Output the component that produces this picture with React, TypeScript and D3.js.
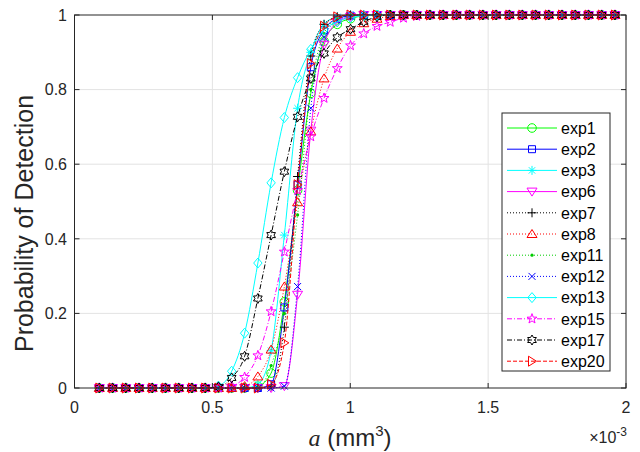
import React from 'react';
import * as d3 from 'd3';

// flaw size a, in units of 1e-3 mm^3
const aValues = [
  0.090, 0.138, 0.186, 0.234, 0.282, 0.330, 0.378, 0.426, 0.474, 0.522,
  0.570, 0.617, 0.665, 0.713, 0.761, 0.809, 0.857, 0.905, 0.953, 1.001,
  1.049, 1.097, 1.145, 1.193, 1.241, 1.289, 1.337, 1.385, 1.433, 1.481,
  1.529, 1.577, 1.624, 1.672, 1.720, 1.768, 1.816, 1.864, 1.912, 1.960,
];

const exp1 = [
  0, 0, 0, 0, 0, 0, 0, 0, 0, 0,
  0, 0, 0.005, 0.04, 0.231, 0.53, 0.79, 0.93, 0.975, 0.99,
  0.998, 1, 1, 1, 1, 1, 1, 1, 1, 1,
  1, 1, 1, 1, 1, 1, 1, 1, 1, 1,
];
const exp2 = [
  0, 0, 0, 0, 0, 0, 0, 0, 0, 0,
  0, 0, 0, 0.01, 0.216, 0.545, 0.86, 0.96, 0.99, 0.998,
  1, 1, 1, 1, 1, 1, 1, 1, 1, 1,
  1, 1, 1, 1, 1, 1, 1, 1, 1, 1,
];
const exp3 = [
  0, 0, 0, 0, 0, 0, 0, 0, 0, 0,
  0, 0, 0.01, 0.1, 0.41, 0.75, 0.9, 0.975, 0.995, 1,
  1, 1, 1, 1, 1, 1, 1, 1, 1, 1,
  1, 1, 1, 1, 1, 1, 1, 1, 1, 1,
];
const exp6 = [
  0, 0, 0, 0, 0, 0, 0, 0, 0, 0,
  0, 0, 0, 0, 0.005, 0.25, 0.69, 0.92, 0.98, 0.995,
  1, 1, 1, 1, 1, 1, 1, 1, 1, 1,
  1, 1, 1, 1, 1, 1, 1, 1, 1, 1,
];
const exp7 = [
  0, 0, 0, 0, 0, 0, 0, 0, 0, 0,
  0, 0, 0, 0.005, 0.163, 0.567, 0.89, 0.975, 0.995, 1,
  1, 1, 1, 1, 1, 1, 1, 1, 1, 1,
  1, 1, 1, 1, 1, 1, 1, 1, 1, 1,
];
const exp8 = [
  0, 0, 0, 0, 0, 0, 0, 0, 0, 0,
  0, 0.005, 0.031, 0.103, 0.272, 0.498, 0.688, 0.83, 0.91, 0.955,
  0.978, 0.99, 0.997, 1, 1, 1, 1, 1, 1, 1,
  1, 1, 1, 1, 1, 1, 1, 1, 1, 1,
];
const exp11 = [
  0, 0, 0, 0, 0, 0, 0, 0, 0, 0,
  0, 0, 0, 0.06, 0.2, 0.464, 0.8, 0.95, 0.99, 1,
  1, 1, 1, 1, 1, 1, 1, 1, 1, 1,
  1, 1, 1, 1, 1, 1, 1, 1, 1, 1,
];
const exp12 = [
  0, 0, 0, 0, 0, 0, 0, 0, 0, 0,
  0, 0, 0, 0, 0.005, 0.272, 0.75, 0.94, 0.985, 0.997,
  1, 1, 1, 1, 1, 1, 1, 1, 1, 1,
  1, 1, 1, 1, 1, 1, 1, 1, 1, 1,
];
const exp13 = [
  0, 0, 0, 0, 0, 0, 0, 0, 0, 0.005,
  0.045, 0.147, 0.335, 0.55, 0.725, 0.832, 0.908, 0.96, 0.982, 0.993,
  0.998, 1, 1, 1, 1, 1, 1, 1, 1, 1,
  1, 1, 1, 1, 1, 1, 1, 1, 1, 1,
];
const exp15 = [
  0, 0, 0, 0, 0, 0, 0, 0, 0, 0,
  0.005, 0.029, 0.087, 0.205, 0.365, 0.53, 0.674, 0.777, 0.857, 0.918,
  0.95, 0.97, 0.981, 0.992, 0.997, 1, 1, 1, 1, 1,
  1, 1, 1, 1, 1, 1, 1, 1, 1, 1,
];
const exp17 = [
  0, 0, 0, 0, 0, 0, 0, 0, 0, 0.003,
  0.027, 0.085, 0.24, 0.41, 0.58, 0.727, 0.83, 0.897, 0.94, 0.962,
  0.982, 0.995, 1, 1, 1, 1, 1, 1, 1, 1,
  1, 1, 1, 1, 1, 1, 1, 1, 1, 1,
];
const exp20 = [
  0, 0, 0, 0, 0, 0, 0, 0, 0, 0,
  0, 0, 0, 0.01, 0.121, 0.545, 0.87, 0.97, 0.995, 1,
  1, 1, 1, 1, 1, 1, 1, 1, 1, 1,
  1, 1, 1, 1, 1, 1, 1, 1, 1, 1,
];

const seriesNames = ['exp1', 'exp2', 'exp3', 'exp6', 'exp7', 'exp8', 'exp11', 'exp12', 'exp13', 'exp15', 'exp17', 'exp20'];
const seriesValues = [exp1, exp2, exp3, exp6, exp7, exp8, exp11, exp12, exp13, exp15, exp17, exp20];

const xTicks = [0, 0.5, 1, 1.5, 2];
const xTickLabels = ['0', '0.5', '1', '1.5', '2'];
const yTicks = [0, 0.2, 0.4, 0.6, 0.8, 1];
const yTickLabels = ['0', '0.2', '0.4', '0.6', '0.8', '1'];

// matlab-ish styles: color, marker, dash
const styles = [
  { color: '#00ff00', marker: 'o', dash: null },
  { color: '#0000ff', marker: 's', dash: null },
  { color: '#00ffff', marker: '*', dash: null },
  { color: '#ff00ff', marker: 'v', dash: null },
  { color: '#000000', marker: '+', dash: '1 2' },
  { color: '#ff0000', marker: '^', dash: '1 2' },
  { color: '#00cc00', marker: '.', dash: '1 2' },
  { color: '#0000ff', marker: 'x', dash: '1 2' },
  { color: '#00ffff', marker: 'd', dash: null },
  { color: '#ff00ff', marker: 'p', dash: '5 2 1 2' },
  { color: '#000000', marker: 'h', dash: '5 2 1 2' },
  { color: '#ff0000', marker: '>', dash: '4 2' },
];

const axisColor = '#262626';
const gridColor = '#e3e3e3';
const sans = '"Liberation Sans", Arial, Helvetica, sans-serif';

const x = d3.scaleLinear().domain([0, 2]).range([74.5, 626]);
const y = d3.scaleLinear().domain([0, 1]).range([388, 15]);

function starPath(points: number, outer: number, inner: number) {
  const pts: string[] = [];
  for (let i = 0; i < points * 2; i++) {
    const r = i % 2 === 0 ? outer : inner;
    const ang = -Math.PI / 2 + (i * Math.PI) / points;
    pts.push(`${(r * Math.cos(ang)).toFixed(2)},${(r * Math.sin(ang)).toFixed(2)}`);
  }
  return 'M' + pts.join('L') + 'Z';
}

function markerPath(m: string) {
  switch (m) {
    case 'o': return d3.symbol(d3.symbolCircle, Math.PI * 4.3 * 4.3)() as string;
    case 's': return 'M-3.5,-3.5H3.5V3.5H-3.5Z';
    case '*': return 'M-4.5,0H4.5M0,-4.5V4.5M-3.2,-3.2L3.2,3.2M-3.2,3.2L3.2,-3.2';
    case '+': return 'M-4.5,0H4.5M0,-4.5V4.5';
    case 'x': return 'M-3.5,-3.5L3.5,3.5M-3.5,3.5L3.5,-3.5';
    case 'v': return 'M-5,-3.5L5,-3.5L0,4.5Z';
    case '^': return 'M-5,3.5L5,3.5L0,-4.5Z';
    case '>': return 'M-3.5,-5L-3.5,5L4.5,0Z';
    case 'd': return 'M0,-5L4.2,0L0,5L-4.2,0Z';
    case 'p': return starPath(5, 5.2, 2.1);
    case 'h': return starPath(6, 5, 2.9);
    default: return '';
  }
}

function Marker({ m, color, cx, cy }: { m: string; color: string; cx: number; cy: number }) {
  if (m === '.') return <circle cx={cx} cy={cy} r={1.6} fill={color} />;
  return <path d={markerPath(m)} transform={`translate(${cx},${cy})`} fill="none" stroke={color} strokeWidth={1} />;
}

export default function App() {
  const line = d3.line<number>()
    .x((_, i) => x(aValues[i]))
    .y(d => y(d))
    .curve(d3.curveMonotoneX);

  const legendX = 502, legendY = 113, legendW = 108, legendH = 258;
  const rowH = 21.2;

  return (
    <svg width={640} height={452} style={{ position: 'absolute', left: 0, top: 0, background: '#fff' }}>
      {/* grid */}
      {xTicks.slice(1, -1).map(t => (
        <line key={'gx' + t} x1={x(t)} x2={x(t)} y1={y(0)} y2={y(1)} stroke={gridColor} />
      ))}
      {yTicks.slice(1, -1).map(t => (
        <line key={'gy' + t} x1={x(0)} x2={x(2)} y1={y(t)} y2={y(t)} stroke={gridColor} />
      ))}

      {/* series */}
      {seriesValues.map((vals, si) => {
        const st = styles[si];
        return (
          <g key={seriesNames[si]}>
            <path d={line(vals) as string} fill="none" stroke={st.color} strokeWidth={1}
              strokeDasharray={st.dash ?? undefined} />
            {vals.map((v, i) => (
              <Marker key={i} m={st.marker} color={st.color} cx={x(aValues[i])} cy={y(v)} />
            ))}
          </g>
        );
      })}

      {/* axes box */}
      <rect x={x(0)} y={y(1)} width={x(2) - x(0)} height={y(0) - y(1)} fill="none" stroke={axisColor} strokeWidth={1} />
      {xTicks.map(t => (
        <g key={'tx' + t}>
          <line x1={x(t)} x2={x(t)} y1={y(0)} y2={y(0) - 5} stroke={axisColor} />
          <line x1={x(t)} x2={x(t)} y1={y(1)} y2={y(1) + 5} stroke={axisColor} />
        </g>
      ))}
      {yTicks.map(t => (
        <g key={'ty' + t}>
          <line x1={x(0)} x2={x(0) + 5} y1={y(t)} y2={y(t)} stroke={axisColor} />
          <line x1={x(2)} x2={x(2) - 5} y1={y(t)} y2={y(t)} stroke={axisColor} />
        </g>
      ))}

      {/* tick labels */}
      {xTicks.map((t, i) => (
        <text key={'lx' + t} x={x(t)} y={413} textAnchor="middle" fontFamily={sans} fontSize={16} fill={axisColor}>
          {xTickLabels[i]}
        </text>
      ))}
      {yTicks.map((t, i) => (
        <text key={'ly' + t} x={67} y={y(t) + 5.8} textAnchor="end" fontFamily={sans} fontSize={16} fill={axisColor}>
          {yTickLabels[i]}
        </text>
      ))}

      {/* exponent */}
      <text x={627} y={443} textAnchor="end" fontFamily={sans} fontSize={16} fill={axisColor}>
        ×10<tspan dy={-7} fontSize={12}>-3</tspan>
      </text>

      {/* axis labels */}
      <text x={350} y={446} textAnchor="middle" fontSize={24} fill={axisColor}>
        <tspan fontFamily='"Liberation Serif", "Times New Roman", serif' fontStyle="italic">a</tspan>
        <tspan fontFamily={sans}> (mm</tspan>
        <tspan fontFamily={sans} fontSize={15} dy={-10}>3</tspan>
        <tspan fontFamily={sans} dy={10}>)</tspan>
      </text>
      <text transform={`translate(33,${(y(0) + y(1)) / 2 + 22}) rotate(-90)`} textAnchor="middle"
        fontFamily={sans} fontSize={25} fill={axisColor}>
        Probability of Detection
      </text>

      {/* legend */}
      <rect x={legendX} y={legendY} width={legendW} height={legendH} fill="#fff" stroke={axisColor} strokeWidth={1} />
      {seriesNames.map((name, i) => {
        const st = styles[i];
        const cy = legendY + 15 + i * rowH;
        return (
          <g key={'lg' + name}>
            <line x1={507} x2={557} y1={cy} y2={cy} stroke={st.color} strokeWidth={1}
              strokeDasharray={st.dash ?? undefined} />
            <Marker m={st.marker} color={st.color} cx={532} cy={cy} />
            <text x={561} y={cy + 5.8} fontFamily={sans} fontSize={16} fill="#000">{name}</text>
          </g>
        );
      })}
    </svg>
  );
}
